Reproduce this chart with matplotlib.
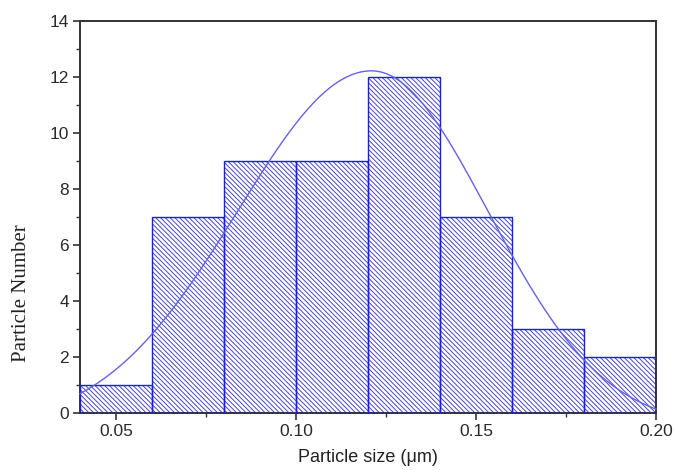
import numpy as np
import matplotlib
matplotlib.use("Agg")
import matplotlib.pyplot as plt

# Histogram data
bin_edges = [0.04, 0.06, 0.08, 0.10, 0.12, 0.14, 0.16, 0.18, 0.20]
counts = [1, 7, 9, 9, 12, 7, 3, 2]

# Fitted peak curve (BiGaussian) parameters
fit_y0 = -0.5
fit_xc = 0.121
fit_H = 12.72
fit_w1 = 0.0372
fit_w2 = 0.0323

x_ticks = [0.05, 0.10, 0.15, 0.20]
x_ticklabels = ["0.05", "0.10", "0.15", "0.20"]
y_ticks = [0, 2, 4, 6, 8, 10, 12, 14]

plt.rcParams['hatch.linewidth'] = 0.7

fig = plt.figure(figsize=(6.75, 4.7), dpi=100)
ax = fig.add_axes([80/675, 57/470, 576/675, 392/470])

lefts = np.array(bin_edges[:-1])
widths = np.diff(bin_edges)
# hatch layer
ax.bar(lefts, counts, width=widths, align='edge', color='white',
       edgecolor='#4646d0', hatch='\\' * 7, linewidth=0, zorder=2)
# outline layer
ax.bar(lefts, counts, width=widths, align='edge', fill=False,
       edgecolor='#1a1aff', linewidth=1.0, zorder=3)

xs = np.linspace(bin_edges[0], bin_edges[-1], 400)
w = np.where(xs < fit_xc, fit_w1, fit_w2)
ys = fit_y0 + fit_H * np.exp(-0.5 * ((xs - fit_xc) / w) ** 2)
ax.plot(xs, ys, color='#6262e6', linewidth=1.0, zorder=4, clip_on=False)

ax.set_xlim(0.04, 0.20)
ax.set_ylim(0, 14)
ax.set_xticks(x_ticks)
ax.set_xticklabels(x_ticklabels)
ax.set_xticks([0.075, 0.125, 0.175], minor=True)
ax.set_yticks(y_ticks)
ax.set_yticks(np.arange(1, 14, 2), minor=True)

for s in ax.spines.values():
    s.set_color('#333333')
    s.set_linewidth(1.4)

ax.tick_params(which='major', direction='out', length=5, width=1.2,
               color='#333333', labelsize=12.5, labelcolor='#2a2a2a', pad=3)
ax.tick_params(which='minor', direction='out', length=3, width=1.0,
               color='#333333')
for lab in ax.get_xticklabels() + ax.get_yticklabels():
    lab.set_family('Liberation Sans')

fig.text(368/675, 1 - 457/470, 'Particle size (\u03bcm)', family='Liberation Sans',
         fontsize=13, color='#222222', ha='center', va='center')
fig.text(21.5/675, 1 - 293/470, 'Particle Number', family='Liberation Serif',
         fontsize=15, color='#222222', ha='center', va='center', rotation=90)

fig.savefig('out.png', dpi=100)
